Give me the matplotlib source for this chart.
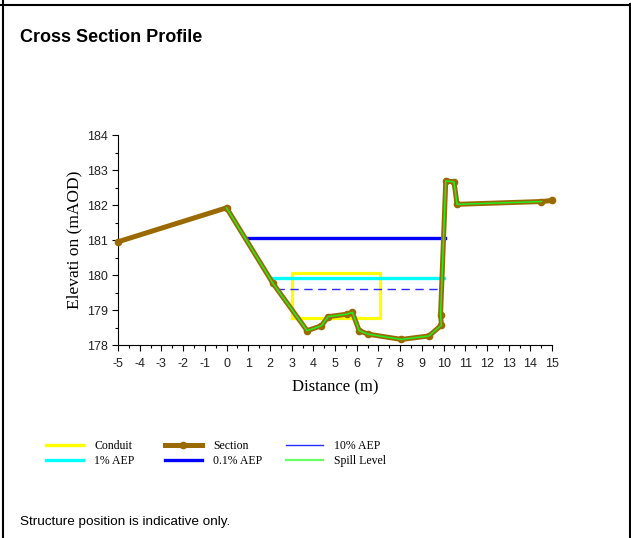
import matplotlib

matplotlib.use("Agg")
import matplotlib.pyplot as plt
from matplotlib.lines import Line2D
from matplotlib.ticker import MultipleLocator

plt.rcParams["axes.unicode_minus"] = False

# surveyed cross section (distance m, elevation mAOD)
section_x = [-5.0, 0.0, 2.14, 3.71, 4.37, 4.68, 5.53, 5.80, 6.11, 6.52, 8.06,
             9.33, 9.90, 9.86, 10.10, 10.48, 10.62, 14.51, 15.0]
section_y = [180.95, 181.92, 179.76, 178.41, 178.55, 178.81, 178.88, 178.93,
             178.41, 178.31, 178.16, 178.26, 178.57, 178.86, 182.69, 182.66,
             182.02, 182.10, 182.13]

# spill level follows the section between these indices
spill_start, spill_end = 1, 17

# conduit box: x0, x1, invert, soffit
conduit_x = [3.0, 7.05]
conduit_y = [178.76, 180.05]

# flood levels: name, elevation, extent
level_names = ["0.1% AEP", "1% AEP", "10% AEP"]
level_z = [181.05, 179.92, 179.59]
level_x0 = [0.84, 1.99, 2.30]
level_x1 = [10.05, 10.00, 9.90]

SERIF = "Liberation Serif"
SANS = "Liberation Sans"
BROWN = "#9a6a00"

fig = plt.figure(figsize=(6.31, 5.38), dpi=100)
ax = fig.add_axes([0.187, 0.3587, 0.688, 0.3903])

# conduit outline
cx = [conduit_x[0], conduit_x[1], conduit_x[1], conduit_x[0], conduit_x[0]]
cy = [conduit_y[0], conduit_y[0], conduit_y[1], conduit_y[1], conduit_y[0]]
ax.plot(cx, cy, color="#ffff00", lw=2.3, zorder=2, solid_joinstyle="miter")

ax.plot([level_x0[0], level_x1[0]], [level_z[0]] * 2, color="#0000ff", lw=2.4, zorder=3)
ax.plot([level_x0[1], level_x1[1]], [level_z[1]] * 2, color="#00ffff", lw=2.4, zorder=3)
ax.plot([level_x0[2], level_x1[2]], [level_z[2]] * 2, color="#2a2aff", lw=1.0,
        dashes=(6, 4), zorder=3)

ax.plot(section_x, section_y, color=BROWN, lw=3.6, marker="o", ms=4.5,
        mec=BROWN, mfc=BROWN, zorder=4, clip_on=False)
ax.plot(section_x[spill_start:spill_end + 1], section_y[spill_start:spill_end + 1],
        color="#22ee22", lw=1.1, zorder=5)

ax.set_xlim(-5, 15)
ax.set_ylim(178, 184)
ax.xaxis.set_major_locator(MultipleLocator(1))
ax.xaxis.set_minor_locator(MultipleLocator(0.5))
ax.yaxis.set_major_locator(MultipleLocator(1))
ax.yaxis.set_minor_locator(MultipleLocator(0.5))
ax.tick_params(which="major", length=4, width=0.8, labelsize=9, labelcolor="#222222")
ax.tick_params(axis="x", which="major", pad=5)
ax.tick_params(which="minor", length=2.5, width=0.8)
for lab in ax.get_xticklabels() + ax.get_yticklabels():
    lab.set_fontfamily(SANS)
for s in ("top", "right"):
    ax.spines[s].set_visible(False)

ax.set_xlabel("Distance (m)", family=SERIF, fontsize=12, labelpad=7)
ax.set_ylabel("Elevati on (mAOD)", family=SERIF, fontsize=12.5, labelpad=3)

fig.text(0.032, 0.931, "Cross Section Profile", family=SANS, weight="bold",
         fontsize=13, va="center")
fig.text(0.032, 0.030, "Structure position is indicative only.", family=SANS,
         fontsize=9.7, va="center")

# legend: three fixed columns of two entries
columns = [
    ([Line2D([], [], color="#ffff00", lw=2.4), Line2D([], [], color="#00ffff", lw=2.4)],
     ["Conduit", "1% AEP"], 46),
    ([Line2D([], [], color=BROWN, lw=3.6, marker="o", ms=4.5),
      Line2D([], [], color="#0000ff", lw=2.4)],
     ["Section", "0.1% AEP"], 165),
    ([Line2D([], [], color="#2a2aff", lw=1.0), Line2D([], [], color="#66ff66", lw=1.6)],
     ["10% AEP", "Spill Level"], 286),
]
for hs, ls, px in columns:
    fig.legend(hs, ls, loc="upper left", bbox_to_anchor=(px / 631, 0.1815),
               frameon=False, prop={"family": SERIF, "size": 8.5}, handlelength=3.1,
               handletextpad=1.0, labelspacing=0.2, borderaxespad=0, borderpad=0)

# page frame
fig.add_artist(Line2D([0.0055, 0.0055], [0, 1], transform=fig.transFigure, color="black", lw=1.5))
fig.add_artist(Line2D([0.9985, 0.9985], [0, 0.992], transform=fig.transFigure, color="black", lw=1.5))
fig.add_artist(Line2D([0, 1], [0.9915, 0.9915], transform=fig.transFigure, color="black", lw=1.5))

fig.savefig("out.png", dpi=100, facecolor="white")
